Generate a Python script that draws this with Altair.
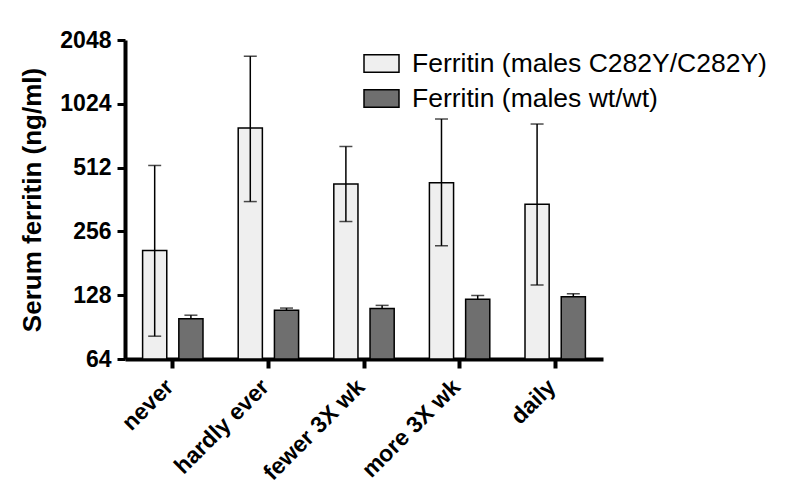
import altair as alt
import pandas as pd

categories = ["never", "hardly ever", "fewer 3X wk", "more 3X wk", "daily"]
series = ["Ferritin (males C282Y/C282Y)", "Ferritin (males wt/wt)"]

c282y_mean = [208, 787, 429, 434, 344]
c282y_low = [82, 354, 285, 219, 143]
c282y_high = [524, 1717, 644, 868, 822]

wt_mean = [99, 108.6, 110.8, 122.5, 126]
wt_high = [103, 111.3, 114.6, 127.6, 130]

y_ticks = [64, 128, 256, 512, 1024, 2048]
fills = ["#efefef", "#6f6f6f"]

rows = []
for i, c in enumerate(categories):
    rows.append(dict(cat=c, series=series[0], mean=c282y_mean[i],
                     low=c282y_low[i], high=c282y_high[i], lowcap=True))
    rows.append(dict(cat=c, series=series[1], mean=wt_mean[i],
                     low=wt_mean[i], high=wt_high[i], lowcap=False))
df = pd.DataFrame(rows)

FONT = "Liberation Sans"

x_enc = alt.X(
    "cat:N", sort=categories,
    scale=alt.Scale(paddingInner=0, paddingOuter=0),
    axis=alt.Axis(title=None, labelAngle=-45, labelAlign="right", labelBaseline="middle",
                  labelFontSize=23, labelFontWeight="bold",
                  labelFont=FONT, labelColor="black", domainColor="black", domainWidth=4,
                  tickColor="black", tickWidth=4, tickSize=9, labelPadding=15,
                  labelOffset=-3, grid=False),
)
xoff = alt.XOffset("series:N", sort=series,
                   scale=alt.Scale(paddingInner=0.333, paddingOuter=0.486))
y_scale = alt.Scale(type="log", base=2, domain=[64, 2048])

bars = alt.Chart(df).mark_bar(stroke="black", strokeWidth=1.5).encode(
    x=x_enc,
    xOffset=xoff,
    y=alt.Y("mean:Q", scale=y_scale,
            axis=alt.Axis(values=y_ticks, format="d", title="Serum ferritin (ng/ml)",
                          titleFontSize=26, titleFontWeight="bold", titleFont=FONT,
                          titleColor="black", titlePadding=14,
                          labelFontSize=23, labelFontWeight="bold", labelFont=FONT,
                          labelColor="black", labelPadding=6,
                          domainColor="black", domainWidth=4, tickColor="black",
                          tickWidth=3, tickSize=8, grid=False)),
    y2=alt.datum(64),
    fill=alt.Fill("series:N", sort=series,
                  scale=alt.Scale(domain=series, range=fills),
                  legend=alt.Legend(title=None, orient="none", legendX=238, legendY=5,
                                    symbolType="M-1,-0.5H1V0.5H-1Z", symbolSize=1225,
                                    symbolStrokeColor="black", symbolStrokeWidth=1.5,
                                    labelFontSize=26.5, labelFont=FONT, labelColor="black",
                                    labelLimit=0, labelOffset=12, rowPadding=3, padding=0)),
)

rules = alt.Chart(df).mark_rule(color="black", strokeWidth=1.5).encode(
    x=alt.X("cat:N", sort=categories),
    xOffset=xoff,
    y=alt.Y("low:Q", scale=y_scale),
    y2="high:Q",
)

top_caps = alt.Chart(df).mark_tick(color="black", orient="horizontal", size=13, thickness=1.5).encode(
    x=alt.X("cat:N", sort=categories),
    xOffset=xoff,
    y=alt.Y("high:Q", scale=y_scale),
)

low_caps = alt.Chart(df).transform_filter("datum.lowcap").mark_tick(
    color="black", orient="horizontal", size=13, thickness=1.5).encode(
    x=alt.X("cat:N", sort=categories),
    xOffset=xoff,
    y=alt.Y("low:Q", scale=y_scale),
)

chart = alt.layer(bars, rules, top_caps, low_caps).properties(
    width=478, height=319,
    autosize=alt.AutoSizeParams(type="none"),
    padding={"left": 117, "top": 32, "right": 189, "bottom": 131},
    background="white",
).configure_view(stroke=None)

chart.save("out.html", embed_options={"renderer": "svg", "actions": False})
